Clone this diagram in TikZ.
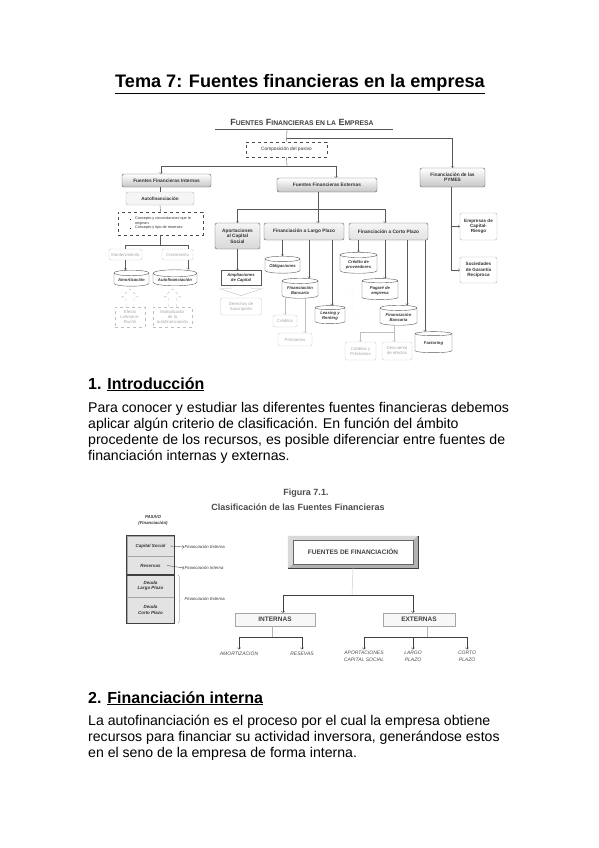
\documentclass[tikz,border=0pt]{standalone}
\usepackage{fontspec}
\setmainfont{Liberation Sans}
\usetikzlibrary{positioning}
\usetikzlibrary{shapes.geometric}
\usetikzlibrary{decorations.pathreplacing}
\usetikzlibrary{backgrounds}

\newcommand{\versal}[1]{{\fontsize{6.8}{7}\selectfont #1}}

\begin{document}
\begin{tikzpicture}[x=1pt,y=-1pt,
    every node/.style={font=\fontsize{4.3}{5}\selectfont, text=black!80, align=center, inner sep=0.5pt},
    caja/.style={draw=gray!70!black, rounded corners=2pt, top color=white, bottom color=gray!45, font=\fontsize{4.8}{5.4}\selectfont\bfseries},
    cajaclara/.style={draw=gray!60, rounded corners=2pt, fill=gray!8, font=\fontsize{4.6}{5.2}\selectfont\bfseries},
    cajapunt/.style={draw=gray!60!black, dashed},
    cajagris/.style={draw=gray!40, rounded corners=2pt, fill=white, text=gray!70},
    cil/.style={cylinder, shape border rotate=90, aspect=0.2, draw=gray!70!black, fill=white, font=\fontsize{4.2}{5}\selectfont\bfseries\itshape},
    flecha/.style={->, gray!70!black, line width=0.35pt},
    linea/.style={gray!70!black, line width=0.35pt},
    texto/.style={anchor=base west, font=\fontsize{14.1}{16}\selectfont, text=black, inner sep=0, align=left},
    seccion/.style={anchor=base west, font=\fontsize{16}{19}\selectfont\bfseries, text=black, inner sep=0},
    pasivo/.style={draw=gray!70, fill=gray!22, minimum width=47pt, inner sep=0, font=\fontsize{4.5}{5.5}\selectfont\bfseries\itshape, text=gray!40!black},
    grupo/.style={draw=gray!70, fill=gray!6, inner sep=0, minimum height=13pt, font=\fontsize{6.5}{7}\selectfont\bfseries, text=black!75},
    etiq/.style={anchor=north, inner sep=1.5pt, font=\fontsize{5}{6.5}\selectfont\itshape, text=gray!60!black},
    flecha2/.style={->, black!75, line width=0.5pt}]
\useasboundingbox (0,0) rectangle (599,848);

% titulo y textos
\node[anchor=base, font=\fontsize{18.1}{21}\selectfont\bfseries, inner sep=0, text=black] (tema) at (300,88) {\underline{Tema 7: Fuentes financieras en la empresa}};

% esquema superior
\node[font=\bfseries, text=black!75] (titulo) at (302,122) {\fontsize{9}{9}\selectfont F\versal{UENTES} F\versal{INANCIERAS EN LA} E\versal{MPRESA}};
\coordinate (rayaI) at (215,129);
\coordinate (rayaD) at (393,129);
\draw[linea] (rayaI) -- (rayaD);
\node[cajapunt, minimum width=81pt, minimum height=15pt, font=\fontsize{4.8}{5.4}\selectfont] (comp) at (286.5,149.5) {Composición del pasivo};
\node[caja, minimum width=65pt, minimum height=19pt] (pymes) at (452.5,177.5) {Financiación de las\\PYMES};
\node[caja, minimum width=89pt, minimum height=13pt] (intern) at (166.5,180.5) {Fuentes Financieras Internas};
\node[caja, minimum width=100pt, minimum height=14pt] (extern) at (327,185) {Fuentes Financieras Externas};
\node[cajaclara, minimum width=68pt, minimum height=13pt] (autof) at (160,198.5) {Autofinanciación};
\node[cajapunt, minimum width=85pt, minimum height=23pt, align=left, font=\fontsize{3.8}{4.5}\selectfont] (concept) at (160.5,223.5) {\rule{1.2pt}{1.2pt}\quad Concepto y circunstancias que le\\\hphantom{\rule{1.2pt}{1.2pt}\quad }originan.\\\rule{1.2pt}{1.2pt}\quad Concepto y tipo de reservas};
\node[cajagris, minimum width=33pt, minimum height=11pt] (manten) at (125.5,254.5) {Mantenimiento};
\node[cajagris, minimum width=31pt, minimum height=11pt] (crec) at (177.5,254.5) {Crecimiento};
\node[cil, minimum width=35pt, minimum height=16pt] (amort) at (131.5,280) {Amortización};
\node[cil, minimum width=44pt, minimum height=16pt] (autof2) at (175,280) {Autofinanciación};
\node[cajapunt, draw=gray!50, text=gray!70, minimum width=30pt, minimum height=20pt] (efecto) at (130,317) {Efecto\\Lohmann-\\Ruchti};
\node[cajapunt, draw=gray!50, text=gray!70, minimum width=39pt, minimum height=20pt] (multip) at (172.5,317) {Multiplicador\\de la\\autofinanciación};
\node[caja, top color=gray!8, bottom color=gray!30, minimum width=45pt, minimum height=26pt] (aport) at (237.5,236) {Aportaciones\\al Capital\\Social};
\node[caja, top color=gray!8, bottom color=gray!22, minimum width=80pt, minimum height=17pt] (largo) at (304,231.5) {Financiación a Largo Plazo};
\node[caja, top color=gray!8, bottom color=gray!22, minimum width=79pt, minimum height=17pt] (corto) at (388.5,231.5) {Financiación a Corto Plazo};
\node[cajaclara, fill=white, minimum width=37pt, minimum height=27pt] (empcr) at (478.5,226.5) {Empresas de\\Capital-\\Riesgo};
\node[cajaclara, fill=white, minimum width=37pt, minimum height=26pt] (sgr) at (478.5,270) {Sociedades\\de Garantía\\Recíproca};
\node[draw=gray!70!black, fill=white, minimum width=40pt, minimum height=15pt, font=\fontsize{4.2}{5}\selectfont\bfseries\itshape] (amplia) at (241,278) {Ampliaciones\\de Capital};
\node[cajagris, minimum width=41pt, minimum height=17pt] (derech) at (241,306.5) {Derechos de\\Suscripción};
\node[cil, minimum width=35pt, minimum height=17pt] (oblig) at (282.5,266.5) {Obligaciones};
\node[cil, minimum width=36pt, minimum height=20pt] (fbl) at (300,290) {Financiación\\Bancaria};
\node[cil, minimum width=30pt, minimum height=18pt] (leas) at (330,316) {Leasing y\\Renting};
\node[cajagris, minimum width=24pt, minimum height=12pt] (cred) at (285,321) {Créditos};
\node[cajagris, minimum width=34pt, minimum height=13pt] (prest) at (295,339.5) {Préstamos};
\node[cil, minimum width=37pt, minimum height=21pt] (cprov) at (358.5,264.5) {Crédito de\\proveedores};
\node[cil, minimum width=36pt, minimum height=21pt] (pagare) at (380,290.5) {Pagaré de\\empresa};
\node[cil, minimum width=37pt, minimum height=20pt] (fbc) at (398.5,317) {Financiación\\Bancaria};
\node[cil, minimum width=37pt, minimum height=21pt] (fact) at (433.5,343.5) {Factoring};
\node[cajagris, minimum width=31pt, minimum height=18pt] (cyp) at (360.5,351) {Créditos y\\Préstamos};
\node[cajagris, minimum width=30pt, minimum height=18pt] (desc) at (397,351) {Descuento\\de efectos};

% conexiones del esquema
\coordinate (ramaP) at (287,138);
\coordinate (ramaF) at (287,166);
\draw[linea] (287,129) -- (comp.north);
\draw[flecha] (ramaP) -| (pymes.north);
\draw[linea] (comp.south) -- (ramaF);
\draw[flecha] (ramaF) -| ([xshift=-5.5pt]intern.north);
\draw[flecha] (ramaF) -| ([xshift=9pt]extern.north);
\draw[linea] (intern.south -| autof.north) -- (autof.north);
\draw[linea] (autof.south) -- (concept.north);
\coordinate (ramaA) at (160.5,245);
\coordinate (cr) at (188,245);
\draw[linea] (concept.south) -- (ramaA);
\draw[linea] (ramaA) -| (manten.north);
\draw[linea] (ramaA) -- (cr) -- (cr |- crec.north);
\draw[flecha] (manten.south) -- (manten.south |- amort.north);
\draw[flecha] (cr |- crec.south) -- (cr |- autof2.north);
\draw[cajapunt, draw=gray!55] ([xshift=-4pt]efecto.north) -- ++(0,-10) -- ++(-4,0) -- ++(8,-8) -- ++(8,8) -- ++(-4,0) -- ++(0,10);
\draw[cajapunt, draw=gray!55] ([xshift=-4pt]multip.north) -- ++(0,-10) -- ++(-4,0) -- ++(8,-8) -- ++(8,8) -- ++(-4,0) -- ++(0,10);
\coordinate (ramaE) at (318,209);
\draw[linea] (ramaE |- extern.south) -- (ramaE);
\draw[flecha] (ramaE) -| (aport.north);
\draw[flecha] (ramaE) -- (ramaE |- largo.north);
\draw[flecha] (ramaE) -| ([xshift=-3.5pt]corto.north);
\coordinate (ramaS) at (451,270);
\draw[linea] (ramaS |- pymes.south) -- (ramaS);
\draw[flecha] (ramaS |- empcr.west) -- (empcr.west);
\draw[flecha] (ramaS) -- (sgr.west);
\draw[flecha] (aport.south) -- (aport.south |- amplia.north);
\draw[gray!50] ([xshift=-10pt]amplia.south) -- ++(0,3) -- ++(-11,0) -- ++(21,7) -- ++(21,-7) -- ++(-11,0) -- ++(0,-3);
\coordinate (c1) at ([xshift=9pt]fbl.north);
\coordinate (c2) at ([xshift=2pt]leas.north);
\draw[flecha] (largo.south -| oblig.north) -- (oblig.north);
\draw[flecha] (largo.south -| c1) -- (c1);
\draw[flecha] (largo.south -| c2) -- (c2);
\coordinate (p1) at ([xshift=10pt]prest.north);
\draw[flecha, gray!50] (fbl.south -| cred.north) -- (cred.north);
\draw[flecha, gray!50] (fbl.south -| p1) -- (p1);
\coordinate (dq) at (353,317);
\draw[linea, gray!55, dotted] (fbl.east) -| (dq) -- (fbc.west);
\coordinate (c3) at ([xshift=5pt]pagare.north);
\coordinate (c4) at ([xshift=8.5pt]fbc.north);
\coordinate (c5) at ([xshift=-8.5pt]fact.north);
\draw[flecha] (corto.south -| cprov.north) -- (cprov.north);
\draw[flecha] (corto.south -| c3) -- (c3);
\draw[flecha] (corto.south -| c4) -- (c4);
\draw[flecha] (corto.south -| c5) -- (c5);
\coordinate (ramaC) at (394,332);
\draw[linea, gray!50] (ramaC |- fbc.south) -- (ramaC);
\draw[flecha, gray!50] (ramaC) -| (cyp.north);
\draw[flecha, gray!50] (ramaC) -- (ramaC |- desc.north);

% seccion 1
\node[seccion] (sec1) at (88,389) {1. \underline{Introducción}};
\node[texto] (t1) at (88,412) {Para conocer y estudiar las diferentes fuentes financieras debemos};
\node[texto] (t2) at (88,428) {aplicar algún criterio de clasificación. En función del ámbito};
\node[texto] (t3) at (88,444) {procedente de los recursos, es posible diferenciar entre fuentes de};
\node[texto] (t4) at (88,460) {financiación internas y externas.};

% figura 7.1
\node[font=\fontsize{9}{10}\selectfont\bfseries, text=black!70] (fig) at (306,493) {Figura 7.1.};
\node[font=\fontsize{9}{10}\selectfont\bfseries, text=black!70] (clasif) at (298,507) {Clasificación de las Fuentes Financieras};
\node[font=\fontsize{4.3}{6}\selectfont\bfseries\itshape, text=gray!40!black] (pas) at (153,520) {PASIVO\\(Financiación)};
\node[pasivo, minimum height=20pt] (capsoc) at (150.5,546) {Capital Social};
\node[pasivo, minimum height=19pt] (reserv) at (150.5,565.5) {Reservas};
\node[pasivo, minimum height=22pt] (dlp) at (150.5,586) {Deuda\\Largo Plazo};
\node[pasivo, minimum height=26pt] (dcp) at (150.5,610) {Deuda\\Corto Plazo};
\draw[line width=1.1pt, black!75] (capsoc.north west) rectangle (reserv.south east);
\draw[line width=1.1pt, black!75] (dlp.north west) rectangle (dcp.south east);
\node[anchor=west, text=gray!40!black, font=\fontsize{4.3}{5}\selectfont\itshape] (fe1) at (184,547) {Financiación Externa};
\node[anchor=west, text=gray!40!black, font=\fontsize{4.3}{5}\selectfont\itshape] (fi) at (184,568) {Financiación Interna};
\node[anchor=west, text=gray!40!black, font=\fontsize{4.3}{5}\selectfont\itshape] (fe2) at (184,599) {Financiación Externa};
\draw[->, black!70, line width=0.4pt] ([xshift=-4pt]capsoc.east) -- (fe1.west);
\draw[->, black!70, line width=0.4pt] ([xshift=-7pt]reserv.east) -- (fi.west);
\draw[black!60, line width=0.3pt, decorate, decoration={brace, amplitude=2pt}] ([xshift=4pt]dlp.north east) -- ([xshift=4pt]dcp.south east);

\node[draw=black!60, fill=white, minimum width=120pt, minimum height=24pt, inner sep=0, font=\fontsize{6.5}{7}\selectfont\bfseries, text=black!75] (fuentes) at (353,552) {FUENTES DE FINANCIACIÓN};
\begin{scope}[on background layer]
  \fill[gray!60, draw=black!75] ([shift={(-5pt,4pt)}]fuentes.north west) rectangle ([shift={(5pt,-4pt)}]fuentes.south east);
  \fill[gray!30] ([shift={(-5pt,4pt)}]fuentes.north west) -- ([shift={(5pt,4pt)}]fuentes.north east) -- (fuentes.north east) -- (fuentes.north west) -- (fuentes.south west) -- ([shift={(-5pt,-4pt)}]fuentes.south west) -- cycle;
\end{scope}
\node[grupo, minimum width=80pt] (internas) at (275,619.5) {INTERNAS};
\node[grupo, minimum width=72pt] (externas) at (419,619.5) {EXTERNAS};
\node[etiq, text height=4pt] (amort2) at (239,649.5) {AMORTIZACIÓN};
\node[etiq, text height=4pt] (resev) at (302,649.5) {RESEVAS};
\node[etiq] (aportc) at (364,649.5) {APORTACIONES\\CAPITAL SOCIAL};
\node[etiq] (largoc) at (413,649.5) {LARGO\\PLAZO};
\node[etiq] (cortoc) at (467,649.5) {CORTO\\PLAZO};
\coordinate (ramaF2) at (352,595);
\draw[gray!40, line width=0.5pt] ([yshift=-4pt]fuentes.south) -- (ramaF2);
\draw[flecha2] (ramaF2) -| ([xshift=8pt]internas.north);
\draw[flecha2] (ramaF2) -| ([xshift=-6pt]externas.north);
\coordinate (ramaI) at (272,637);
\draw[gray!60, line width=0.5pt] (ramaI |- internas.south) -- (ramaI);
\draw[flecha2] (ramaI) -| (amort2.north);
\draw[flecha2] (ramaI) -| (resev.north);
\coordinate (ramaX) at (427,637);
\draw[gray!60, line width=0.5pt] (ramaX |- externas.south) -- (ramaX);
\draw[flecha2] (ramaX) -| (aportc.north);
\draw[flecha2] (ramaX) -| (largoc.north);
\draw[flecha2] (ramaX) -| (cortoc.north);

% seccion 2
\node[seccion] (sec2) at (88,703) {2. \underline{Financiación interna}};
\node[texto] (u1) at (88,725) {La autofinanciación es el proceso por el cual la empresa obtiene};
\node[texto] (u2) at (88,741) {recursos para financiar su actividad inversora, generándose estos};
\node[texto] (u3) at (88,757) {en el seno de la empresa de forma interna.};
\end{tikzpicture}
\end{document}
